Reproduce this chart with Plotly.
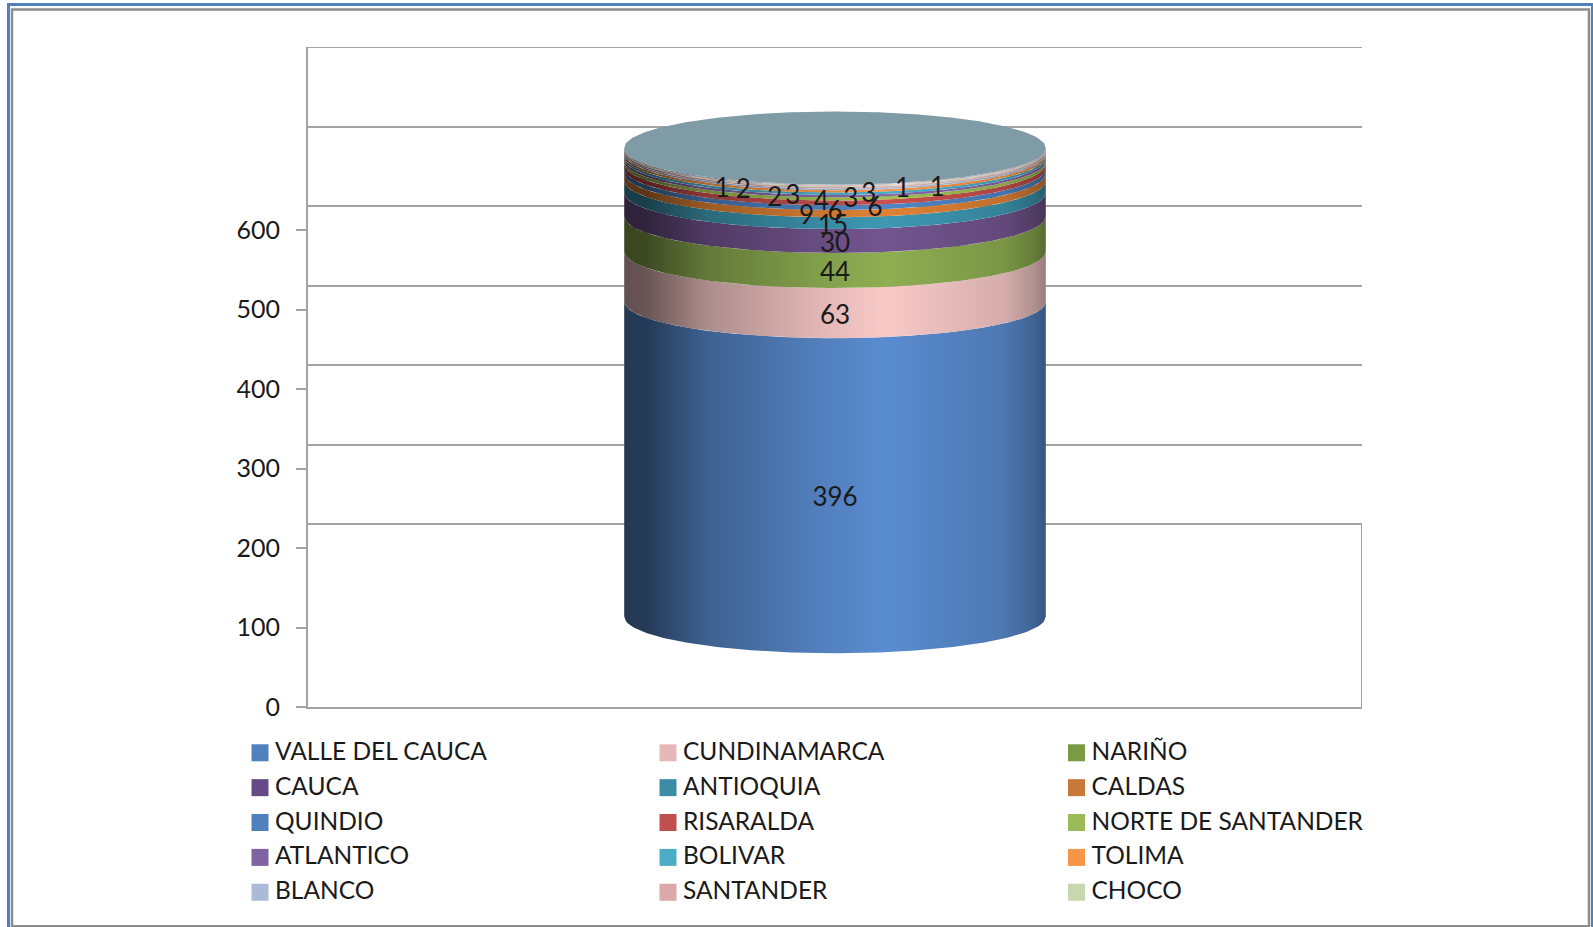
import numpy as np
import plotly.graph_objects as go

# The photographed page comes out about 1.5 % squeezed vertically, so vertical page
# positions are stretched by KY to land where the reference has them.
KY = 1.0155
W, H = 1593, round(927 * KY)

# ---- data -------------------------------------------------------------
DEPARTAMENTOS = ["VALLE DEL CAUCA", "CUNDINAMARCA", "NARIÑO", "CAUCA", "ANTIOQUIA", "CALDAS",
                 "QUINDIO", "RISARALDA", "NORTE DE SANTANDER", "ATLANTICO", "BOLIVAR", "TOLIMA",
                 "BLANCO", "SANTANDER", "CHOCO", "(sin leyenda 1)", "(sin leyenda 2)"]
VALORES = [396, 63, 44, 30, 15, 9, 6, 6, 4, 3, 3, 3, 2, 2, 1, 1, 1]
Y_TICKS = [0, 100, 200, 300, 400, 500, 600]

# ---- styles -----------------------------------------------------------
SIDE_COLORS = ["#5A8CD0", "#F8CAC8", "#8FAF52", "#73558F", "#3E98B2", "#E08236",
               "#4F86C6", "#C9504E", "#A0C050", "#8667AE", "#4BACC6", "#F79646",
               "#AABBDD", "#E3B4B4", "#CBDAB0", "#E6CCD2", "#B9B2BE"]
LEGEND_COLORS = ["#4F81BD", "#E6B9B8", "#7A9A45", "#664A86", "#3C8CA6", "#C8793A",
                 "#4F81BD", "#C0504D", "#9BBB59", "#8064A2", "#4BACC6", "#F79646",
                 "#AABAD7", "#DDA8A8", "#C8D7AE"]
CAP_COLOR = "#7F9CA6"
LABEL_X = [0, 0, 0, 0, -0.002, -0.027, 0, 0.038, -0.013, 0.015, -0.04, 0.032,
           -0.057, -0.087, -0.107, 0.064, 0.097]
LABEL_NUDGE = [0, 0, 0, 0, 0, 0, -2, -3, -1, -1, 0, 0, -8, 0, 0, -1, -1]
LABEL_SHIFT = -5
FONT = "Lato"
TEXT = "#1a1a1a"
GRID = "#A3A3A3"

PLOT_L, PLOT_R, PLOT_T, PLOT_B = 308, 1362, 47 * KY, 707 * KY
Y_MAX, DEPTH = 830, 230
RADIUS, ELL, BASE = 0.2, 46, 114

SHADE = [(0, .40), (.05, .42), (.2, .70), (.45, .90), (.62, 1.0), (.9, .86), (.97, .72), (1, .62)]


def scale_for(hex_color):
    rgb = [int(hex_color[i:i + 2], 16) for i in (1, 3, 5)]
    return [[p, "rgb(%d,%d,%d)" % tuple(int(c * f) for c in rgb)] for p, f in SHADE]


xs = np.linspace(-RADIUS, RADIUS, 241)
drop = ELL * np.sqrt(np.clip(1 - (xs / RADIUS) ** 2, 0, 1))

fig = go.Figure()

cum = np.concatenate([[0], np.cumsum(VALORES)])
for i, (name, val) in enumerate(zip(DEPARTAMENTOS, VALORES)):
    lo = BASE + cum[i] - drop
    hi = BASE + cum[i + 1] - drop
    fig.add_trace(go.Scatter(
        x=np.concatenate([xs, xs[::-1]]).tolist(), y=np.concatenate([lo, hi[::-1]]).tolist(),
        mode="lines", fill="toself", line=dict(width=0), name=name,
        fillgradient=dict(type="horizontal", colorscale=scale_for(SIDE_COLORS[i]),
                          start=-RADIUS, stop=RADIUS),
        hovertemplate=f"{name}: {val}<extra></extra>",
    ))

top = BASE + cum[-1]
fig.add_trace(go.Scatter(
    x=np.concatenate([xs, xs[::-1]]).tolist(), y=np.concatenate([top - drop, (top + drop)[::-1]]).tolist(),
    mode="lines", fill="toself", line=dict(width=0), fillcolor=CAP_COLOR, hoverinfo="skip",
))

# data labels
mids = BASE + (cum[:-1] + cum[1:]) / 2 - ELL + np.array(LABEL_NUDGE) + LABEL_SHIFT
fig.add_trace(go.Scatter(
    x=LABEL_X, y=mids.tolist(), mode="text", text=[str(v) for v in VALORES],
    textposition="middle center", textfont=dict(family=FONT, size=26, color=TEXT),
    hoverinfo="skip",
))

# back wall scale: right edge of the floor and the top gridline
fig.add_trace(go.Scatter(
    x=[0.5, 0.5, None, -0.5, 0.5], y=[-DEPTH, 0, None, Y_TICKS[-1], Y_TICKS[-1]], yaxis="y2", mode="lines",
    line=dict(color=GRID, width=2), hoverinfo="skip", cliponaxis=False,
))

# legend grid, on a page-sized helper axis pair
COLS, ROW_H = [260, 668, 1076.5], 34.85
lx = [COLS[i % 3] for i in range(15)]
ly = [(752.5 + (i // 3) * ROW_H) * KY for i in range(15)]
fig.add_trace(go.Scatter(
    x=lx, y=ly, xaxis="x2", yaxis="y3", mode="markers",
    marker=dict(symbol="square", size=17, color=LEGEND_COLORS, line=dict(width=0)),
    hoverinfo="skip",
))
fig.add_trace(go.Scatter(
    x=[v + 15 for v in lx], y=[v + 1 for v in ly], xaxis="x2", yaxis="y3", mode="text",
    text=DEPARTAMENTOS[:15], textposition="middle right",
    textfont=dict(family=FONT, size=24.5, color=TEXT), hoverinfo="skip",
))

axis_line = dict(showline=True, linecolor=GRID, linewidth=2)
fig.update_layout(
    width=W, height=H, autosize=False, showlegend=False,
    margin=dict(l=0, r=0, t=0, b=0), paper_bgcolor="white", plot_bgcolor="rgba(0,0,0,0)",
    font=dict(family=FONT, size=24, color=TEXT),
    xaxis=dict(domain=[PLOT_L / W, PLOT_R / W], range=[-0.5, 0.5], showticklabels=False,
               ticks="", showgrid=False, zeroline=False, **axis_line),
    yaxis=dict(domain=[(H - PLOT_B) / H, (H - PLOT_T) / H], range=[0, Y_MAX],
               tickvals=Y_TICKS, ticks="outside", ticklen=10, tickcolor=GRID, tickwidth=2,
               ticklabelstandoff=11, showgrid=False, zeroline=False,
               tickfont=dict(family=FONT, size=25, color=TEXT), **axis_line),
    yaxis2=dict(overlaying="y", range=[-DEPTH, 600], tickvals=Y_TICKS, showticklabels=False,
                ticks="", showgrid=True, gridcolor=GRID, gridwidth=2, zeroline=False,
                anchor="x", side="left"),
    xaxis2=dict(domain=[0, 1], range=[0, W], visible=False, anchor="y3"),
    yaxis3=dict(domain=[0, 1], range=[H, 0], visible=False, anchor="x2"),
    shapes=[
        dict(type="rect", xref="paper", yref="paper", x0=8.5 / W, x1=1592.5 / W,
             y0=1 - 960 / H, y1=1 - 4.5 * KY / H, line=dict(color="#4F81BD", width=3)),
        dict(type="rect", xref="paper", yref="paper", x0=12 / W, x1=1589 / W,
             y0=1 - 926 * KY / H, y1=1 - 9.5 * KY / H, line=dict(color="#8C8C8C", width=2.5)),
    ],
)

fig.write_html("out.html", config={"displayModeBar": False, "responsive": False},
               post_script="document.body.style.margin='0';document.body.style.overflow='hidden';")
